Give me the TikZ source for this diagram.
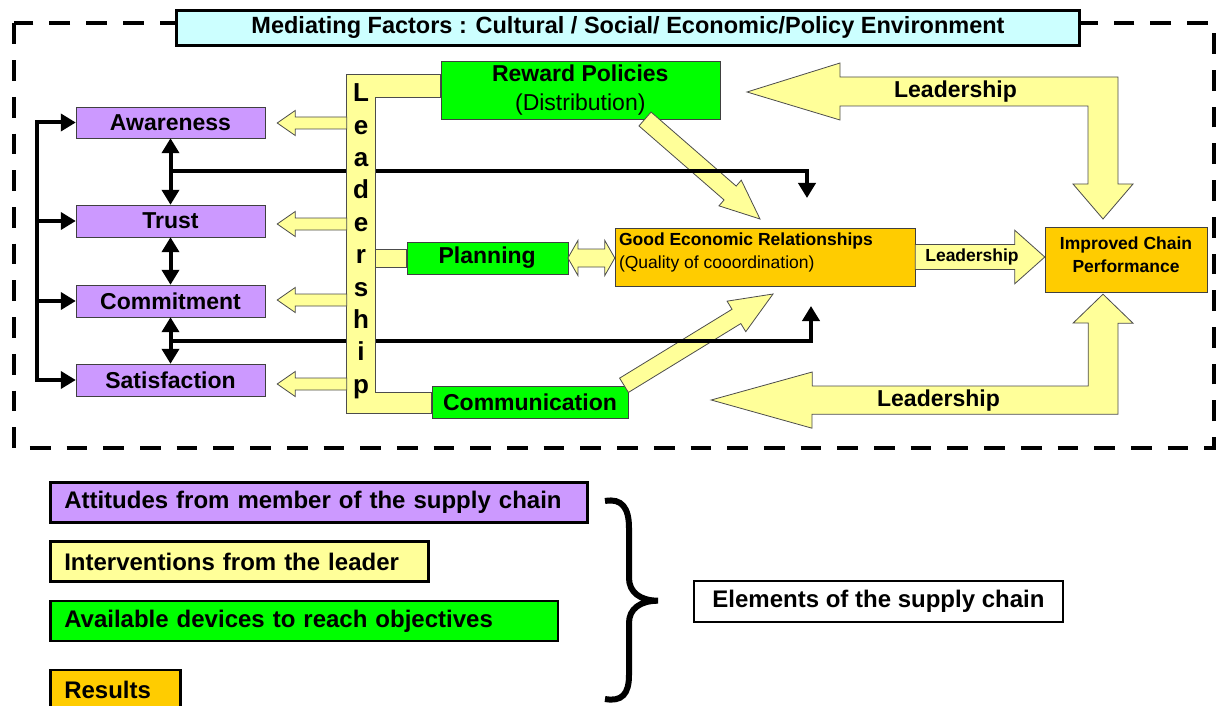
\documentclass[tikz,border=0pt]{standalone}
\usepackage{fontspec}
\setmainfont{Liberation Sans}
\usetikzlibrary{calc,arrows.meta}

\definecolor{attpurple}{HTML}{CC99FF}
\definecolor{levyellow}{HTML}{FFFF99}
\definecolor{devgreen}{HTML}{00FF00}
\definecolor{resorange}{HTML}{FFCC00}
\definecolor{envcyan}{HTML}{CCFFFF}

\newcommand{\fatarrow}[5]{%
  \filldraw[yarrow] ($(#1)!#3!-90:(#2)$) -- ($(#2)!#5!(#1)!#3!90:(#1)$)
    -- ($(#2)!#5!(#1)!#4!90:(#1)$) -- (#2) -- ($(#2)!#5!(#1)!#4!-90:(#1)$)
    -- ($(#2)!#5!(#1)!#3!-90:(#1)$) -- ($(#1)!#3!90:(#2)$) -- cycle;}

\begin{document}
\begin{tikzpicture}[x=1pt,y=-1pt,>={Triangle[length=15pt,width=17pt]},
    attbox/.style={draw=black!75,fill=attpurple,minimum width=189pt,minimum height=31pt,inner sep=1pt,font=\fontsize{23}{27}\selectfont\bfseries},
    devbox/.style={draw=black!75,fill=devgreen,inner sep=1pt,font=\fontsize{23}{29}\selectfont\bfseries},
    resbox/.style={draw=black!75,fill=resorange,inner sep=1pt,font=\fontsize{17.5}{23.3}\selectfont\bfseries},
    yarrow/.style={draw=black!70,fill=levyellow,line width=0.8pt},
    blk/.style={line width=4pt},
    legbox/.style={draw,line width=2.5pt,anchor=west,align=left,inner xsep=14pt,minimum height=40pt,font=\fontsize{24}{28}\selectfont\bfseries},
    barletter/.style={anchor=base,inner sep=0pt,font=\fontsize{26}{30}\selectfont\bfseries},
    leadlabel/.style={inner sep=0pt,font=\fontsize{23}{27}\selectfont\bfseries}]
        \useasboundingbox (0,0) rectangle (1216,706);
        \draw[line width=4pt,dash pattern=on 20.7pt off 16pt] (14,23.5) rectangle (1214,448);
        \node[draw,line width=3pt,fill=envcyan,minimum width=903pt,minimum height=35pt,inner sep=0pt,font=\fontsize{23.5}{28}\selectfont\bfseries] (env) at (628,27.8) {Mediating Factors : Cultural / Social/ Economic/Policy Environment};

        \node[attbox] (aware) at (170.5,122.5) {Awareness};
        \node[attbox,minimum height=32pt] (trust) at (170.5,221) {Trust};
        \node[attbox,minimum height=32pt] (commit) at (170.5,301) {Commitment};
        \node[attbox,minimum height=32pt] (satis) at (170.5,380) {Satisfaction};

        \node[devbox,minimum width=279pt,minimum height=58pt,align=center] (reward) at (580.3,90) {Reward Policies\\{\mdseries (Distribution)}};
        \node[devbox,minimum width=161pt,minimum height=32pt] (plan) at (487.2,258) {Planning};
        \node[devbox,minimum width=196pt,minimum height=31.3pt] (comm) at (530,402.3) {Communication};

        \node[resbox,minimum width=300pt,minimum height=57.4pt] (good) at (765,257) {};
        \node[anchor=north west,inner sep=0pt,align=left,font=\fontsize{17.5}{22.6}\selectfont] (goodtxt) at ($(good.north west)+(4,4.6)$) {{\bfseries Good Economic Relationships}\\(Quality of cooordination)};
        \node[resbox,minimum width=162pt,minimum height=65pt] (perf) at (1126,259.2) {};
        \node[inner sep=0pt,align=center,font=\fontsize{17.5}{23.3}\selectfont\bfseries] (perftxt) at (1126,254.8) {Improved Chain\\Performance};

        \node[minimum width=28pt,minimum height=338pt,inner sep=0pt] (bar) at (361,244) {};

        \coordinate (rwtail) at (645,119);
        \coordinate (rwtip) at (760,219);
        \coordinate (cmtail) at (624,385.3);
        \coordinate (cmtip) at (773,294);
        \fatarrow{rwtail}{rwtip}{9.2pt}{17pt}{39.6pt}
        \fatarrow{cmtail}{cmtip}{8.4pt}{17.9pt}{42.9pt}

        \coordinate (rail) at (37,380);
        \draw[blk,<->] (aware.west) -| (rail) -- (satis.west);
        \foreach \b in {trust,commit}
            \draw[blk,->] (\b.west -| rail) -- (\b.west);
        \draw[blk,<->] (aware.south) -- (trust.north);
        \draw[blk,<->] (trust.south) -- (commit.north);
        \draw[blk,<->] (commit.south) -- (satis.north);
        \coordinate (downend) at (807,198);
        \coordinate (upend) at (811,306);
        \draw[blk,->] ($(aware.south)!0.5!(trust.north)$) -| (downend);
        \draw[blk,->] ($(commit.south)!0.5!(satis.north)$) -| (upend);

        \filldraw[yarrow] (bar.north west) -- (bar.north -| reward.west) -- ++(0,23)
            -- ($(bar.north east)+(0,23)$) -- ($(bar.south east)+(0,-21)$)
            -- ($(bar.south -| comm.west)+(0,-21)$) -- (bar.south -| comm.west)
            -- (bar.south west) -- cycle;
        \filldraw[yarrow] ($(plan.west -| bar.east)+(0,-9)$) rectangle ($(plan.west)+(0,9)$);
        \foreach \l [count=\i from 0] in {L,e,a,d,e,r,s,h,i,p}
            \node[barletter] (letter\i) at (361,101.7+32.4*\i) {\l};

        \foreach \b/\dy in {aware/0.5,trust/3,commit/-1,satis/4}{
            \coordinate (ltip) at ($(\b.east)+(12,\dy)$);
            \coordinate (ltail) at (ltip -| bar.west);
            \fatarrow{ltail}{ltip}{6pt}{12.5pt}{18pt}
        }

        \filldraw[yarrow] (plan.east) -- ++(10,-17.5) -- ++(0,8.5) -- ($(plan.east -| good.west)+(-10,-9)$)
            -- ++(0,-8.5) -- (plan.east -| good.west) -- ++(-10,17.5) -- ++(0,-8.5)
            -- ($(plan.east)+(10,9)$) -- ++(0,8.5) -- cycle;

        \coordinate (perfin) at (good.east -| perf.west);
        \fatarrow{good.east}{perfin}{12.5pt}{26.7pt}{30pt}
        \node[leadlabel,font=\fontsize{17.5}{21}\selectfont\bfseries] (lmid) at (972,256.7) {Leadership};

        \coordinate (ta) at ($(reward.east)+(27,2)$);
        \coordinate (tb) at ($(perf.north)+(-23,-7.5)$);
        \filldraw[yarrow] (ta) -- ++(93,-29) -- ++(0,14) -- ++(278,0) -- ++(0,107) -- ++(15,0)
            -- (tb) -- ++(-30,-35) -- ++(15,0) -- ++(0,-78) -- ++(-248,0) -- ++(0,14) -- cycle;
        \node[leadlabel] (ltop) at (955.5,92) {Leadership};

        \coordinate (ba) at ($(comm.east)+(83,-2.3)$);
        \coordinate (bb) at ($(perf.south)+(-23,2.3)$);
        \filldraw[yarrow] (ba) -- ++(101,-28) -- ++(0,14) -- ++(276,0) -- ++(0,-63) -- ++(-15,0)
            -- (bb) -- ++(30,29) -- ++(-15,0) -- ++(0,91) -- ++(-306,0) -- ++(0,14) -- cycle;
        \node[leadlabel] (lbot) at (938.5,401) {Leadership};

        \node[legbox,fill=attpurple,text width=509pt] (legatt) at (49,502.5) {Attitudes from member of the supply chain};
        \node[legbox,fill=levyellow,text width=350pt] (legint) at (49,561.7) {Interventions from the leader};
        \node[legbox,fill=devgreen,text width=479.7pt] (legdev) at (49,621.2) {Available devices to reach objectives};
        \node[legbox,fill=resorange,text width=102.3pt] (legres) at (49,690) {Results};

        \draw[line width=6pt] (605,501) .. controls (622,498) and (629,508) .. (629,528) -- (629,578)
            .. controls (629,592) and (640,600.7) .. (658,600.7)
            .. controls (640,600.7) and (629,609) .. (629,623) -- (629,675)
            .. controls (629,694) and (622,702) .. (605,699);
        \node[draw,line width=2pt,minimum width=369pt,minimum height=40.7pt,inner sep=0pt,font=\fontsize{24}{28}\selectfont\bfseries] (elem) at (878.5,601.3) {Elements of the supply chain};
    \end{tikzpicture}
\end{document}
